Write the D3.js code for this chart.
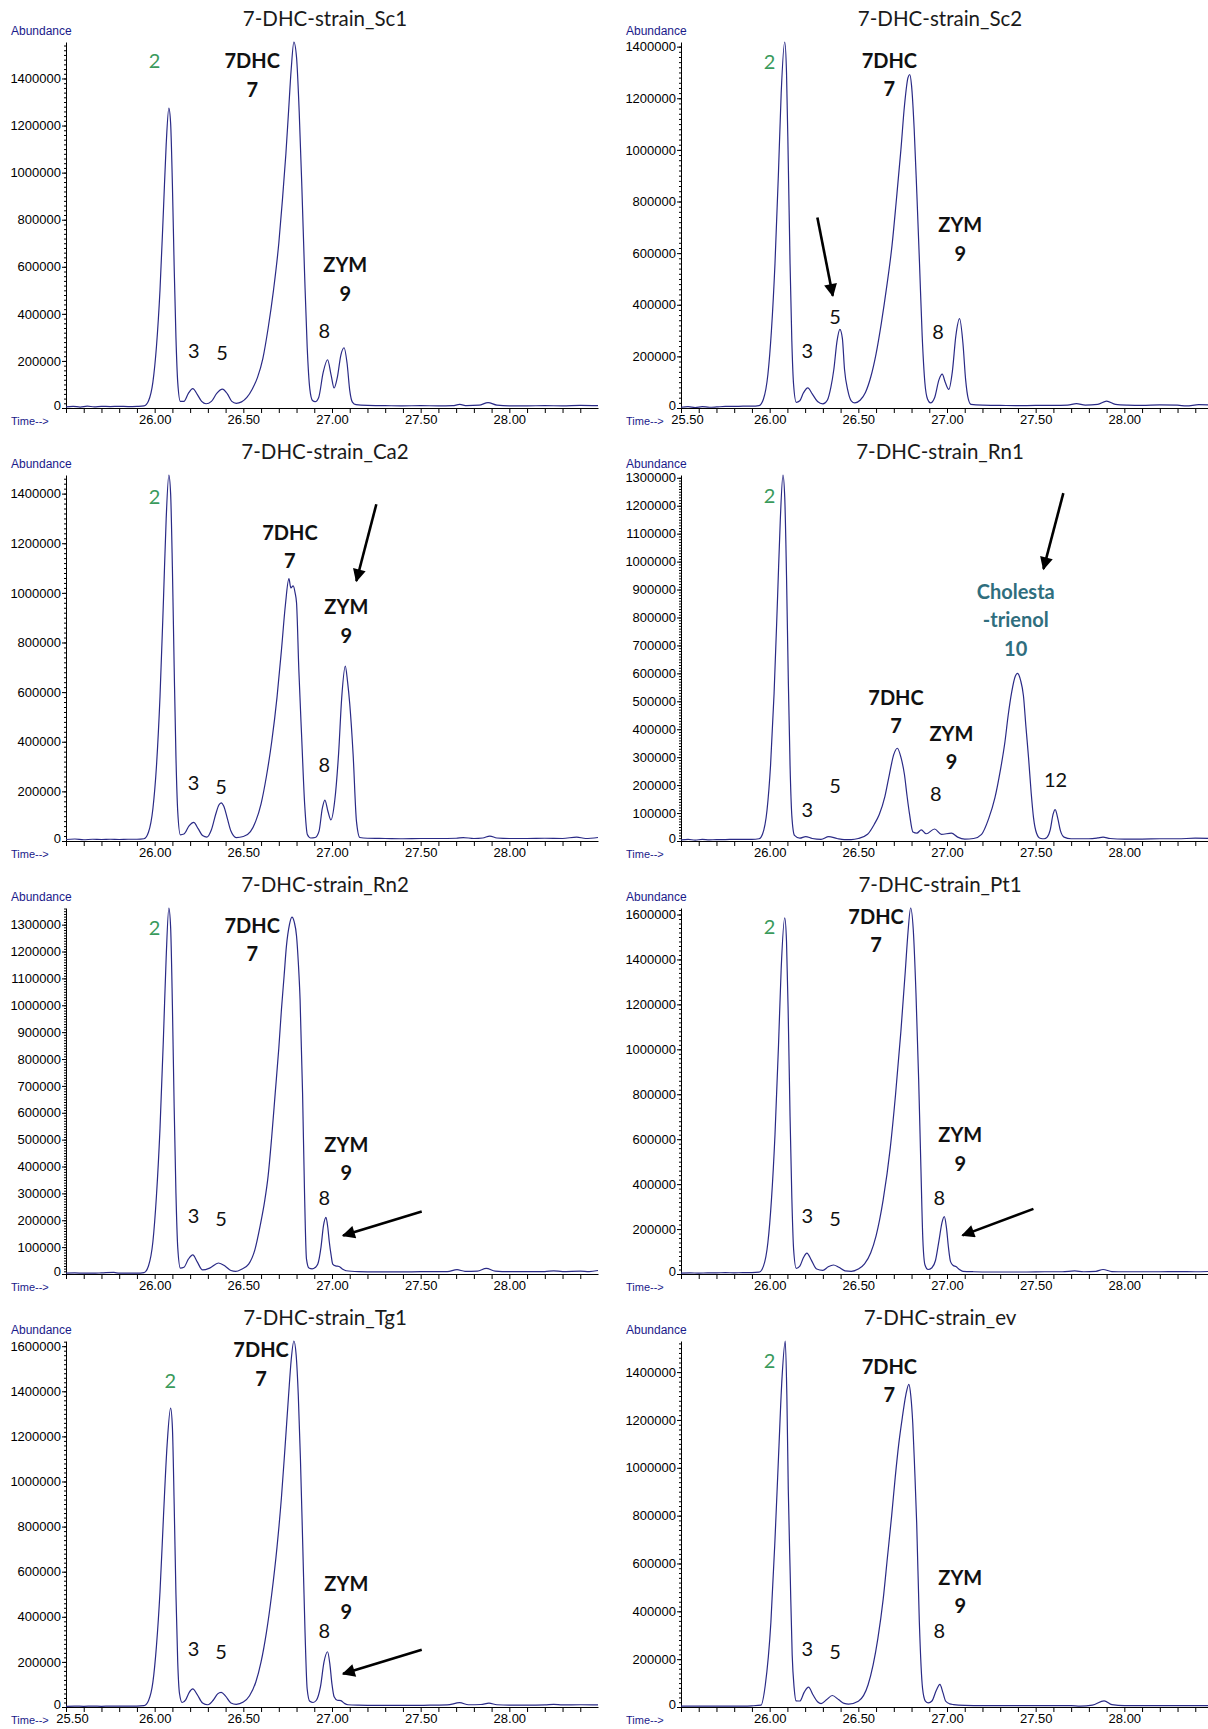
<!DOCTYPE html>
<html>
<head>
<meta charset="utf-8">
<script src="https://cdn.jsdelivr.net/npm/d3@7"></script>
<style>
	body { margin: 0; background: #fff; }
	.tick text { font-family: "Liberation Sans Narrow", "Arial Narrow", sans-serif; font-size: 13px; fill: #000; }
	.tick line, .domain { stroke: #000; }
</style>
</head>
<body>
<div id="chart"></div>
<script>
// panel titles, in reading order (left / right, row by row)
const titles = [
	"7-DHC-strain_Sc1", "7-DHC-strain_Sc2",
	"7-DHC-strain_Ca2", "7-DHC-strain_Rn1",
	"7-DHC-strain_Rn2", "7-DHC-strain_Pt1",
	"7-DHC-strain_Tg1", "7-DHC-strain_ev",
];
// top of each abundance axis, and the labelled tick step
const yMaxes = [1555000, 1418000, 1475000, 1310000, 1362000, 1629000, 1623000, 1530000];
const yTickSteps = [200000, 200000, 200000, 100000, 100000, 200000, 200000, 200000];
// whether 25.50 is printed under the time axis
const showFirstTime = [false, true, false, false, false, false, true, false];
const timeDomain = [25.5, 28.5];

// chromatogram traces [time (min), abundance]
const traceSc1 = [[25.50, 5000],[25.54, 7000],[25.58, 4000],[25.62, 8000],[25.66, 5000],[25.70, 7000],[25.75, 6000],[25.80, 7000],[25.85, 6000],[25.90, 7000],[25.94, 9000],[25.965, 30000],[25.99, 110000],[26.01, 260000],[26.03, 500000],[26.05, 850000],[26.065, 1120000],[26.08, 1274000],[26.09, 1210000],[26.10, 950000],[26.11, 600000],[26.12, 300000],[26.13, 110000],[26.145, 28000],[26.165, 28000],[26.19, 62000],[26.215, 82000],[26.24, 58000],[26.265, 28000],[26.29, 18000],[26.32, 28000],[26.35, 62000],[26.382, 80000],[26.41, 60000],[26.435, 28000],[26.46, 20000],[26.49, 26000],[26.52, 45000],[26.55, 80000],[26.58, 130000],[26.61, 210000],[26.64, 340000],[26.67, 500000],[26.70, 700000],[26.72, 880000],[26.74, 1080000],[26.755, 1260000],[26.77, 1440000],[26.785, 1555000],[26.80, 1490000],[26.815, 1260000],[26.83, 940000],[26.845, 580000],[26.86, 260000],[26.875, 80000],[26.89, 32000],[26.905, 27000],[26.925, 45000],[26.95, 150000],[26.975, 205000],[26.995, 140000],[27.012, 85000],[27.03, 130000],[27.05, 225000],[27.068, 256000],[27.085, 190000],[27.10, 75000],[27.115, 25000],[27.135, 14000],[27.20, 11000],[27.30, 10000],[27.40, 9000],[27.50, 10000],[27.60, 9000],[27.68, 10000],[27.72, 15000],[27.76, 10000],[27.83, 12000],[27.88, 23000],[27.93, 12000],[28.00, 9000],[28.10, 9000],[28.20, 10000],[28.30, 9000],[28.40, 11000],[28.50, 10000]];
const traceSc2 = [[25.50, 3000],[25.54, 5000],[25.58, 2000],[25.62, 5000],[25.66, 3000],[25.70, 4000],[25.75, 6000],[25.80, 6000],[25.85, 7000],[25.90, 7000],[25.94, 9000],[25.965, 35000],[25.99, 130000],[26.01, 300000],[26.03, 560000],[26.05, 920000],[26.065, 1220000],[26.085, 1418000],[26.095, 1300000],[26.105, 950000],[26.115, 560000],[26.125, 260000],[26.135, 90000],[26.15, 22000],[26.17, 28000],[26.19, 58000],[26.215, 78000],[26.24, 55000],[26.27, 25000],[26.30, 16000],[26.325, 30000],[26.345, 80000],[26.362, 150000],[26.38, 260000],[26.396, 305000],[26.41, 270000],[26.422, 150000],[26.44, 70000],[26.46, 28000],[26.48, 20000],[26.51, 30000],[26.54, 60000],[26.57, 120000],[26.60, 210000],[26.63, 330000],[26.66, 470000],[26.69, 630000],[26.715, 810000],[26.74, 1000000],[26.76, 1170000],[26.78, 1280000],[26.79, 1292000],[26.80, 1250000],[26.815, 1080000],[26.83, 830000],[26.845, 560000],[26.86, 280000],[26.875, 100000],[26.89, 35000],[26.907, 20000],[26.93, 40000],[26.955, 110000],[26.973, 131000],[26.99, 100000],[27.01, 72000],[27.03, 140000],[27.05, 280000],[27.071, 346000],[27.09, 250000],[27.105, 110000],[27.12, 35000],[27.135, 14000],[27.20, 11000],[27.30, 10000],[27.40, 9000],[27.50, 10000],[27.60, 10000],[27.68, 11000],[27.73, 17000],[27.78, 11000],[27.85, 14000],[27.90, 27000],[27.95, 14000],[28.02, 11000],[28.10, 10000],[28.20, 12000],[28.30, 11000],[28.35, 8000],[28.42, 13000],[28.50, 12000]];
const traceCa2 = [[25.50, 6000],[25.55, 8000],[25.60, 5000],[25.65, 7000],[25.70, 6000],[25.75, 7000],[25.80, 6000],[25.85, 7000],[25.90, 7000],[25.94, 9000],[25.965, 35000],[25.99, 130000],[26.01, 300000],[26.03, 580000],[26.05, 980000],[26.065, 1300000],[26.08, 1475000],[26.09, 1400000],[26.10, 1100000],[26.11, 700000],[26.12, 340000],[26.13, 120000],[26.145, 25000],[26.165, 28000],[26.195, 62000],[26.22, 75000],[26.245, 50000],[26.27, 22000],[26.295, 16000],[26.32, 45000],[26.345, 110000],[26.362, 145000],[26.375, 154000],[26.39, 140000],[26.41, 90000],[26.43, 40000],[26.46, 14000],[26.50, 18000],[26.54, 38000],[26.57, 80000],[26.60, 150000],[26.63, 260000],[26.66, 400000],[26.69, 580000],[26.715, 770000],[26.737, 950000],[26.757, 1057000],[26.768, 1020000],[26.781, 1028000],[26.792, 1000000],[26.80, 960000],[26.813, 689000],[26.829, 418000],[26.846, 146000],[26.861, 26000],[26.88, 12000],[26.905, 14000],[26.927, 40000],[26.945, 130000],[26.96, 165000],[26.977, 120000],[26.994, 85000],[27.015, 160000],[27.037, 350000],[27.055, 580000],[27.075, 705000],[27.088, 640000],[27.10, 553000],[27.119, 350000],[27.138, 79000],[27.157, 14000],[27.20, 11000],[27.30, 10000],[27.40, 9000],[27.50, 10000],[27.60, 10000],[27.70, 11000],[27.74, 14000],[27.80, 10000],[27.85, 12000],[27.89, 20000],[27.93, 12000],[28.00, 10000],[28.10, 10000],[28.20, 11000],[28.30, 10000],[28.38, 16000],[28.43, 10000],[28.50, 14000]];
const traceRn1 = [[25.50, 4000],[25.54, 6000],[25.58, 3000],[25.62, 6000],[25.66, 4000],[25.70, 5000],[25.75, 5000],[25.80, 6000],[25.85, 6000],[25.90, 6000],[25.94, 8000],[25.96, 25000],[25.985, 110000],[26.005, 270000],[26.025, 530000],[26.045, 880000],[26.06, 1150000],[26.075, 1310000],[26.085, 1230000],[26.095, 950000],[26.105, 580000],[26.115, 270000],[26.125, 90000],[26.14, 20000],[26.17, 10000],[26.203, 16000],[26.24, 9000],[26.29, 6000],[26.333, 16000],[26.38, 9000],[26.42, 5000],[26.46, 5000],[26.50, 9000],[26.552, 24000],[26.59, 60000],[26.618, 95000],[26.65, 160000],[26.675, 238000],[26.70, 310000],[26.72, 332000],[26.74, 300000],[26.76, 238000],[26.775, 160000],[26.789, 95000],[26.808, 32000],[26.83, 28000],[26.855, 40000],[26.883, 26000],[26.93, 43000],[26.968, 24000],[27.025, 28000],[27.06, 14000],[27.10, 7000],[27.15, 9000],[27.195, 24000],[27.235, 80000],[27.27, 154000],[27.30, 250000],[27.327, 356000],[27.345, 450000],[27.365, 534000],[27.385, 590000],[27.398, 600000],[27.415, 575000],[27.431, 520000],[27.445, 410000],[27.46, 297000],[27.475, 170000],[27.488, 83000],[27.505, 28000],[27.525, 10000],[27.548, 8000],[27.565, 14000],[27.582, 40000],[27.598, 95000],[27.61, 112000],[27.625, 80000],[27.64, 36000],[27.66, 14000],[27.70, 8000],[27.80, 8000],[27.85, 11000],[27.88, 14000],[27.92, 9000],[28.00, 7000],[28.10, 7000],[28.20, 8000],[28.30, 8000],[28.40, 10000],[28.50, 9000]];
const traceRn2 = [[25.50, 3000],[25.55, 4000],[25.60, 3000],[25.65, 3000],[25.70, 4000],[25.77, 6000],[25.80, 3000],[25.85, 3000],[25.90, 3000],[25.94, 5000],[25.965, 30000],[25.99, 120000],[26.01, 290000],[26.03, 540000],[26.05, 890000],[26.065, 1180000],[26.08, 1362000],[26.09, 1290000],[26.10, 1000000],[26.11, 620000],[26.12, 300000],[26.13, 100000],[26.145, 22000],[26.165, 25000],[26.19, 55000],[26.215, 71000],[26.24, 45000],[26.27, 15000],[26.31, 22000],[26.36, 41000],[26.40, 28000],[26.43, 13000],[26.457, 10000],[26.49, 18000],[26.53, 37000],[26.565, 90000],[26.595, 180000],[26.62, 270000],[26.64, 366000],[26.66, 510000],[26.68, 675000],[26.70, 840000],[26.715, 985000],[26.73, 1110000],[26.743, 1220000],[26.76, 1300000],[26.774, 1328000],[26.787, 1310000],[26.80, 1258000],[26.81, 1160000],[26.82, 1022000],[26.834, 675000],[26.845, 304000],[26.856, 56000],[26.87, 22000],[26.888, 19000],[26.905, 24000],[26.92, 37000],[26.938, 100000],[26.952, 180000],[26.966, 211000],[26.976, 175000],[26.985, 118000],[26.995, 70000],[27.004, 37000],[27.02, 30000],[27.04, 28000],[27.06, 18000],[27.08, 12000],[27.15, 9000],[27.25, 8000],[27.35, 8000],[27.45, 8000],[27.55, 9000],[27.65, 9000],[27.705, 16000],[27.75, 10000],[27.82, 11000],[27.87, 21000],[27.92, 11000],[28.00, 9000],[28.10, 9000],[28.20, 9000],[28.25, 12000],[28.30, 9000],[28.40, 11000],[28.45, 9000],[28.50, 13000]];
const tracePt1 = [[25.50, 4000],[25.55, 5000],[25.60, 4000],[25.65, 5000],[25.70, 5000],[25.75, 6000],[25.80, 5000],[25.85, 6000],[25.90, 6000],[25.94, 8000],[25.965, 35000],[25.99, 140000],[26.01, 330000],[26.03, 620000],[26.05, 1020000],[26.065, 1360000],[26.085, 1585000],[26.095, 1480000],[26.105, 1140000],[26.115, 700000],[26.125, 340000],[26.135, 110000],[26.15, 25000],[26.17, 35000],[26.19, 72000],[26.21, 93000],[26.235, 62000],[26.265, 22000],[26.30, 16000],[26.33, 32000],[26.36, 40000],[26.39, 30000],[26.425, 14000],[26.46, 12000],[26.50, 22000],[26.535, 45000],[26.57, 95000],[26.60, 170000],[26.64, 330000],[26.68, 560000],[26.71, 800000],[26.74, 1080000],[26.765, 1350000],[26.78, 1520000],[26.795, 1629000],[26.81, 1530000],[26.825, 1250000],[26.84, 870000],[26.852, 500000],[26.864, 150000],[26.876, 40000],[26.893, 20000],[26.915, 28000],[26.935, 60000],[26.955, 150000],[26.972, 230000],[26.985, 255000],[26.997, 205000],[27.008, 120000],[27.02, 55000],[27.035, 38000],[27.05, 33000],[27.07, 20000],[27.09, 12000],[27.15, 10000],[27.25, 9000],[27.35, 9000],[27.45, 9000],[27.55, 10000],[27.65, 10000],[27.72, 14000],[27.77, 10000],[27.84, 12000],[27.88, 20000],[27.93, 11000],[28.00, 10000],[28.10, 10000],[28.20, 10000],[28.30, 11000],[28.40, 10000],[28.50, 12000]];
const traceTg1 = [[25.50, 3000],[25.55, 4000],[25.60, 3000],[25.65, 4000],[25.70, 3000],[25.75, 4000],[25.80, 4000],[25.85, 4000],[25.90, 4000],[25.94, 6000],[25.965, 28000],[25.99, 110000],[26.01, 270000],[26.03, 510000],[26.05, 850000],[26.07, 1160000],[26.09, 1325000],[26.10, 1240000],[26.11, 900000],[26.12, 500000],[26.13, 200000],[26.14, 60000],[26.155, 20000],[26.175, 32000],[26.195, 65000],[26.215, 80000],[26.24, 55000],[26.27, 18000],[26.30, 10000],[26.33, 30000],[26.355, 58000],[26.375, 65000],[26.40, 48000],[26.43, 18000],[26.46, 12000],[26.50, 22000],[26.535, 50000],[26.57, 110000],[26.60, 200000],[26.63, 330000],[26.66, 500000],[26.69, 710000],[26.715, 930000],[26.735, 1150000],[26.755, 1380000],[26.77, 1540000],[26.785, 1623000],[26.798, 1560000],[26.81, 1380000],[26.822, 1100000],[26.835, 720000],[26.848, 330000],[26.86, 80000],[26.875, 25000],[26.893, 20000],[26.912, 30000],[26.935, 90000],[26.955, 200000],[26.975, 245000],[26.988, 190000],[27.0, 100000],[27.012, 45000],[27.03, 30000],[27.05, 28000],[27.07, 16000],[27.09, 10000],[27.15, 8000],[27.25, 7000],[27.35, 7000],[27.45, 7000],[27.55, 8000],[27.65, 9000],[27.72, 19000],[27.77, 10000],[27.84, 11000],[27.885, 17000],[27.93, 10000],[28.00, 8000],[28.10, 8000],[28.20, 9000],[28.25, 12000],[28.30, 9000],[28.40, 10000],[28.50, 9000]];
const traceEv = [[25.50, 4000],[25.55, 4000],[25.60, 4000],[25.65, 4000],[25.70, 4000],[25.75, 4000],[25.80, 4000],[25.85, 4000],[25.90, 5000],[25.952, 8000],[25.975, 90000],[26.007, 355000],[26.03, 700000],[26.05, 1047000],[26.07, 1380000],[26.088, 1530000],[26.097, 1300000],[26.105, 908000],[26.116, 550000],[26.127, 217000],[26.138, 80000],[26.149, 26000],[26.17, 25000],[26.195, 62000],[26.219, 83000],[26.245, 50000],[26.27, 22000],[26.29, 14000],[26.32, 30000],[26.353, 48000],[26.39, 30000],[26.42, 15000],[26.445, 12000],[26.50, 24000],[26.555, 93000],[26.61, 286000],[26.64, 450000],[26.664, 625000],[26.688, 800000],[26.708, 960000],[26.728, 1100000],[26.748, 1210000],[26.768, 1305000],[26.785, 1349000],[26.796, 1300000],[26.807, 1185000],[26.818, 990000],[26.829, 770000],[26.844, 355000],[26.862, 79000],[26.878, 25000],[26.895, 17000],[26.915, 25000],[26.94, 70000],[26.96, 95000],[26.977, 60000],[26.993, 24000],[27.015, 13000],[27.037, 10000],[27.10, 7000],[27.20, 6000],[27.30, 6000],[27.40, 6000],[27.50, 6000],[27.60, 6000],[27.70, 6000],[27.75, 4000],[27.82, 8000],[27.886, 26000],[27.93, 10000],[28.00, 6000],[28.10, 6000],[28.20, 6000],[28.30, 6000],[28.40, 6000],[28.50, 6000]];

// peak annotations [text, time, abundance, kind]
const labelsSc1 = [["2", 26.0, 1475000, "green"], ["7DHC", 26.55, 1475000, "bold"], ["7", 26.55, 1354000, "bold"], ["3", 26.22, 243000, "num"], ["5", 26.38, 234000, "num"], ["8", 26.956, 328000, "num"], ["ZYM", 27.075, 609000, "bold"], ["9", 27.075, 487000, "bold"]];
const labelsSc2 = [["2", 26.0, 1343000, "green"], ["7DHC", 26.675, 1347000, "bold"], ["7", 26.675, 1237000, "bold"], ["5", 26.369, 354000, "num"], ["3", 26.2125, 222000, "num"], ["8", 26.95, 294000, "num"], ["ZYM", 27.075, 708000, "bold"], ["9", 27.075, 597000, "bold"]];
const labelsCa2 = [["2", 26.0, 1387000, "green"], ["7DHC", 26.7625, 1242000, "bold"], ["7", 26.7625, 1128000, "bold"], ["ZYM", 27.081, 943000, "bold"], ["9", 27.081, 828000, "bold"], ["8", 26.956, 308000, "num"], ["3", 26.219, 233000, "num"], ["5", 26.375, 220000, "num"]];
const labelsRn1 = [["2", 26.0, 1237000, "green"], ["Cholesta", 27.3875, 892000, "teal"], ["-trienol", 27.3875, 790000, "teal"], ["10", 27.3875, 687000, "teal"], ["7DHC", 26.7125, 514000, "bold"], ["7", 26.7125, 412000, "bold"], ["ZYM", 27.025, 385000, "bold"], ["9", 27.025, 283000, "bold"], ["8", 26.9375, 169000, "num"], ["12", 27.6125, 220000, "num"], ["5", 26.369, 196000, "num"], ["3", 26.2125, 110000, "num"]];
const labelsRn2 = [["2", 26.0, 1288000, "green"], ["7DHC", 26.55, 1296000, "bold"], ["7", 26.55, 1190000, "bold"], ["ZYM", 27.081, 482000, "bold"], ["9", 27.081, 376000, "bold"], ["8", 26.956, 282000, "num"], ["3", 26.219, 217000, "num"], ["5", 26.375, 204000, "num"]];
const labelsPt1 = [["2", 26.0, 1546000, "green"], ["7DHC", 26.6, 1590000, "bold"], ["7", 26.6, 1463000, "bold"], ["ZYM", 27.075, 618000, "bold"], ["9", 27.075, 491000, "bold"], ["8", 26.956, 339000, "num"], ["3", 26.2125, 260000, "num"], ["5", 26.369, 245000, "num"]];
const labelsTg1 = [["2", 26.0875, 1447000, "green"], ["7DHC", 26.6, 1584000, "bold"], ["7", 26.6, 1457000, "bold"], ["ZYM", 27.081, 548000, "bold"], ["9", 27.081, 420000, "bold"], ["8", 26.956, 337000, "num"], ["3", 26.219, 259000, "num"], ["5", 26.375, 244000, "num"]];
const labelsEv = [["2", 26.0, 1446000, "green"], ["7DHC", 26.675, 1423000, "bold"], ["7", 26.675, 1304000, "bold"], ["ZYM", 27.075, 542000, "bold"], ["9", 27.075, 422000, "bold"], ["8", 26.956, 317000, "num"], ["3", 26.2125, 243000, "num"], ["5", 26.369, 229000, "num"]];

// arrows [time from, abundance from, time to, abundance to], tip at the second point
const arrowsSc2 = [[26.269, 738000, 26.356, 435000]];
const arrowsCa2 = [[27.25, 1357000, 27.1375, 1048000]];
const arrowsRn1 = [[27.656, 1245000, 27.544, 974000]];
const arrowsRn2 = [[27.506, 233000, 27.0625, 143000]];
const arrowsPt1 = [[27.4875, 290000, 27.0875, 172000]];
const arrowsTg1 = [[27.506, 254000, 27.0625, 147000]];

const traces = [traceSc1, traceSc2, traceCa2, traceRn1, traceRn2, tracePt1, traceTg1, traceEv];
const labels = [labelsSc1, labelsSc2, labelsCa2, labelsRn1, labelsRn2, labelsPt1, labelsTg1, labelsEv];
const arrows = [[], arrowsSc2, arrowsCa2, arrowsRn1, arrowsRn2, arrowsPt1, arrowsTg1, []];

const W = 1208, H = 1729;
const rowStep = 433;
const colLeft = [66, 681];
const plotWidth = 532;
const plotTop = 42, plotBase = 408;

const label_styles = {
	num: { fill: "#111", weight: "normal", size: 20 },
	bold: { fill: "#111", weight: "bold", size: 20 },
	green: { fill: "#3a9a5c", weight: "normal", size: 20 },
	teal: { fill: "#2f6e7e", weight: "bold", size: 20 },
};

const svg = d3.select("#chart").append("svg")
	.attr("width", W)
	.attr("height", H)
	.style("display", "block");

svg.append("defs").append("marker")
	.attr("id", "arrowhead")
	.attr("viewBox", "0 0 10 10")
	.attr("refX", 9)
	.attr("refY", 5)
	.attr("markerWidth", 6)
	.attr("markerHeight", 5)
	.attr("markerUnits", "strokeWidth")
	.attr("orient", "auto")
	.append("path")
	.attr("d", "M0,0 L10,5 L0,10 Z")
	.attr("fill", "#000");

function draw_panel(i) {
	const col = i % 2, row = Math.floor(i / 2);
	const left = colLeft[col];
	const top = plotTop + row * rowStep;
	const base = plotBase + row * rowStep;
	const g = svg.append("g");

	const x = d3.scaleLinear().domain(timeDomain).range([left, left + plotWidth]);
	const y = d3.scaleLinear().domain([0, yMaxes[i]]).range([base, top]);

	// title
	g.append("text")
		.attr("x", left + 259)
		.attr("y", top - 16)
		.attr("text-anchor", "middle")
		.attr("font-family", "Lato, 'Open Sans', sans-serif")
		.attr("font-size", 20.5)
		.attr("fill", "#1a1a1a")
		.text(titles[i]);

	g.append("text")
		.attr("x", left - 55)
		.attr("y", top - 7)
		.attr("font-family", "'Liberation Sans Narrow', 'Arial Narrow', sans-serif")
		.attr("font-size", 12)
		.attr("fill", "#1a1a8a")
		.text("Abundance");

	g.append("text")
		.attr("x", left - 55)
		.attr("y", base + 17)
		.attr("font-family", "'Liberation Sans Narrow', 'Arial Narrow', sans-serif")
		.attr("font-size", 11)
		.attr("fill", "#1a1a8a")
		.text("Time-->");

	// y axis: minor ticks then labelled ticks
	const step = yTickSteps[i];
	g.append("g")
		.attr("transform", `translate(${left},0)`)
		.call(d3.axisLeft(y).tickValues(d3.range(0, yMaxes[i], step / 10)).tickSize(2).tickFormat("").tickSizeOuter(0))
		.call((a) => a.select(".domain").remove());
	g.append("g")
		.attr("transform", `translate(${left},0)`)
		.call(d3.axisLeft(y).tickValues(d3.range(0, yMaxes[i] + 1, step)).tickSize(4).tickPadding(1).tickFormat(d3.format("d")).tickSizeOuter(0))
		.call((a) => a.selectAll(".tick text").filter((d) => d === 0).attr("dy", "0.1em"));

	// time axis, a tick every 0.1 min, labels every 0.5
	const timeTicks = d3.range(255, 285).map((d) => d / 10);
	g.append("g")
		.attr("transform", `translate(0,${base})`)
		.call(d3.axisBottom(x).tickValues(timeTicks).tickSize(5).tickPadding(2).tickSizeOuter(0)
			.tickFormat((d) => {
				const k = Math.round(d * 10);
				if (k % 5 !== 0) return "";
				if (k === 255 && !showFirstTime[i]) return "";
				return d.toFixed(2);
			}))
		.call((a) => a.selectAll(".tick text").filter((d) => Math.round(d * 10) === 255).attr("dx", 6));

	// trace
	const line = d3.line()
		.x((d) => x(d[0]))
		.y((d) => y(d[1]))
		.curve(d3.curveMonotoneX);
	g.append("path")
		.datum(traces[i])
		.attr("d", line)
		.attr("fill", "none")
		.attr("stroke", "#2a2a86")
		.attr("stroke-width", 1.2);

	// annotations
	g.selectAll("text.peak")
		.data(labels[i])
		.join("text")
		.attr("class", "peak")
		.attr("x", (d) => x(d[1]))
		.attr("y", (d) => y(d[2]))
		.attr("dy", "0.36em")
		.attr("text-anchor", "middle")
		.attr("font-family", "Lato, 'Open Sans', sans-serif")
		.attr("font-size", (d) => label_styles[d[3]].size)
		.attr("font-weight", (d) => label_styles[d[3]].weight)
		.attr("fill", (d) => label_styles[d[3]].fill)
		.text((d) => d[0]);

	g.selectAll("line.arrow")
		.data(arrows[i])
		.join("line")
		.attr("class", "arrow")
		.attr("x1", (d) => x(d[0]))
		.attr("y1", (d) => y(d[1]))
		.attr("x2", (d) => x(d[2]))
		.attr("y2", (d) => y(d[3]))
		.attr("stroke", "#000")
		.attr("stroke-width", 2.6)
		.attr("marker-end", "url(#arrowhead)");
}

for (let i = 0; i < titles.length; i++) draw_panel(i);
</script>
</body>
</html>
